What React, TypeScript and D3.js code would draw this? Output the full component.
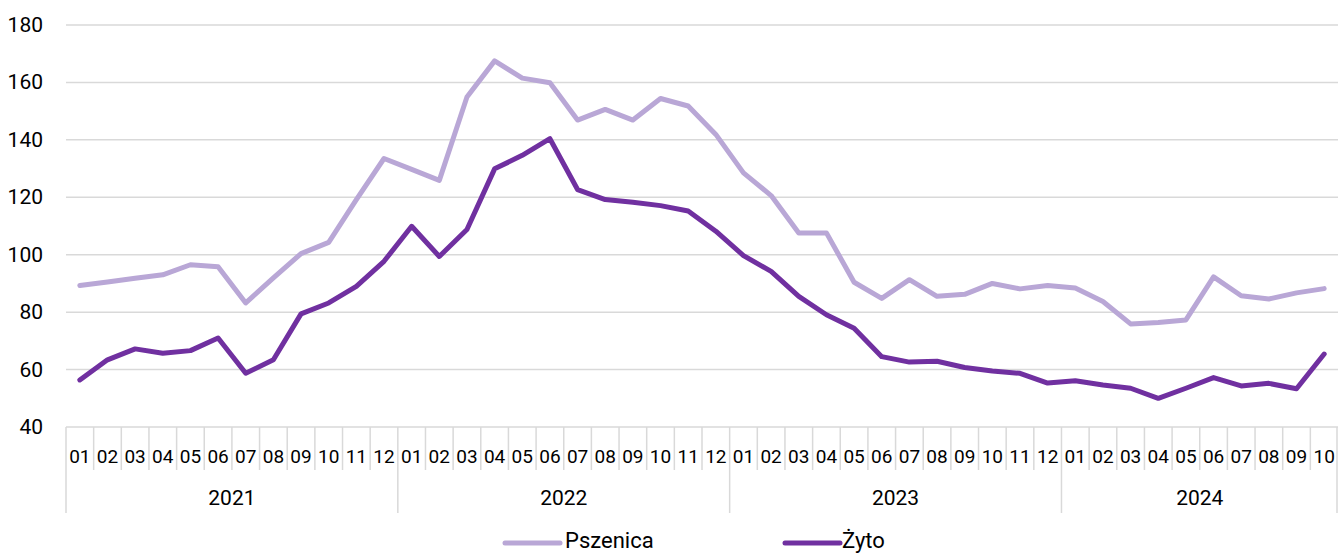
import * as d3 from 'd3';
import React from 'react';

// chart values
const years = ['2021', '2022', '2023', '2024'];
const monthsPerYear = [12, 12, 12, 10];
const yTicks = [40, 60, 80, 100, 120, 140, 160, 180];

const pszenica = [
  89.3, 90.5, 91.8, 93.0, 96.5, 95.8, 83.2, 91.9, 100.4, 104.3, 119.2, 133.5,
  129.7, 125.9, 154.9, 167.5, 161.5, 159.9, 146.9, 150.6, 146.9, 154.4, 151.8, 141.9,
  128.5, 120.6, 107.6, 107.6, 90.4, 84.8, 91.3, 85.5, 86.2, 90.0, 88.1, 89.3,
  88.4, 83.7, 75.9, 76.4, 77.3, 92.3, 85.7, 84.6, 86.7, 88.2
];
const zyto = [
  56.4, 63.4, 67.2, 65.7, 66.6, 71.0, 58.7, 63.4, 79.4, 83.2, 89.0, 97.7,
  109.9, 99.4, 108.8, 129.9, 134.6, 140.4, 122.7, 119.2, 118.3, 117.1, 115.2, 108.2,
  99.7, 94.2, 85.5, 79.1, 74.4, 64.5, 62.6, 62.9, 60.7, 59.5, 58.7, 55.3,
  56.1, 54.6, 53.5, 50.0, 53.5, 57.2, 54.3, 55.2, 53.3, 65.4
];

const W = 1338;
const H = 553;
const font = 'Roboto, "Noto Sans", sans-serif';

export default function App() {
  // build category list: month labels with year
  const cats: { m: string; y: string; i: number }[] = [];
  years.forEach((yr, yi) => {
    for (let m = 1; m <= monthsPerYear[yi]; m++) {
      cats.push({ m: String(m).padStart(2, '0'), y: yr, i: cats.length });
    }
  });

  const x = d3.scaleBand<number>()
    .domain(cats.map(c => c.i))
    .range([66, 1338]);
  const y = d3.scaleLinear().domain([40, 180]).range([427, 25]);
  const cx = (i: number) => (x(i) as number) + x.bandwidth() / 2;

  const line = d3.line<number>()
    .x((d, i) => cx(i))
    .y(d => y(d));

  // year boundaries
  const yearStarts: number[] = [];
  let acc = 0;
  monthsPerYear.forEach(n => { yearStarts.push(acc); acc += n; });

  const bounds = d3.range(cats.length + 1);

  return (
    <svg width={W} height={H} style={{ position: 'absolute', left: 0, top: 0 }} fontFamily={font}>
      {/* grid */}
      {yTicks.map(t => (
        <g key={t}>
          <line x1={66} x2={1338} y1={y(t)} y2={y(t)} stroke="#d9d9d9" strokeWidth={1.5} />
          <text x={43} y={y(t)} textAnchor="end" dominantBaseline="central" fontSize={21} fill="#000">{t}</text>
        </g>
      ))}

      {/* category separators */}
      {bounds.map(b => {
        const bx = b < cats.length ? (x(b) as number) : 1337;
        const isYear = b === cats.length || yearStarts.includes(b);
        return (
          <line key={b} x1={bx} x2={bx} y1={427} y2={isYear ? 513 : 470} stroke="#d9d9d9" strokeWidth={1.5} />
        );
      })}

      {cats.map(c => (
        <text key={c.i} x={cx(c.i)} y={456} textAnchor="middle" dominantBaseline="central" fontSize={19} fill="#000">{c.m}</text>
      ))}

      {years.map((yr, yi) => {
        const s = yearStarts[yi];
        const e = s + monthsPerYear[yi] - 1;
        const mid = ((x(s) as number) + (x(e) as number) + x.bandwidth()) / 2;
        return (
          <text key={yr} x={mid} y={498} textAnchor="middle" dominantBaseline="central" fontSize={21} fill="#000">{yr}</text>
        );
      })}

      {/* series */}
      <path d={line(pszenica) as string} fill="none" stroke="#b9a7d6" strokeWidth={5} strokeLinejoin="round" strokeLinecap="round" />
      <path d={line(zyto) as string} fill="none" stroke="#7030a0" strokeWidth={5} strokeLinejoin="round" strokeLinecap="round" />

      {/* legend */}
      <line x1={505} x2={560} y1={543} y2={543} stroke="#b9a7d6" strokeWidth={5} strokeLinecap="round" />
      <text x={565} y={540} dominantBaseline="central" fontSize={22} fill="#000">Pszenica</text>
      <line x1={785} x2={840} y1={543} y2={543} stroke="#7030a0" strokeWidth={5} strokeLinecap="round" />
      <text x={842} y={540} dominantBaseline="central" fontSize={22} fill="#000">Żyto</text>
    </svg>
  );
}
